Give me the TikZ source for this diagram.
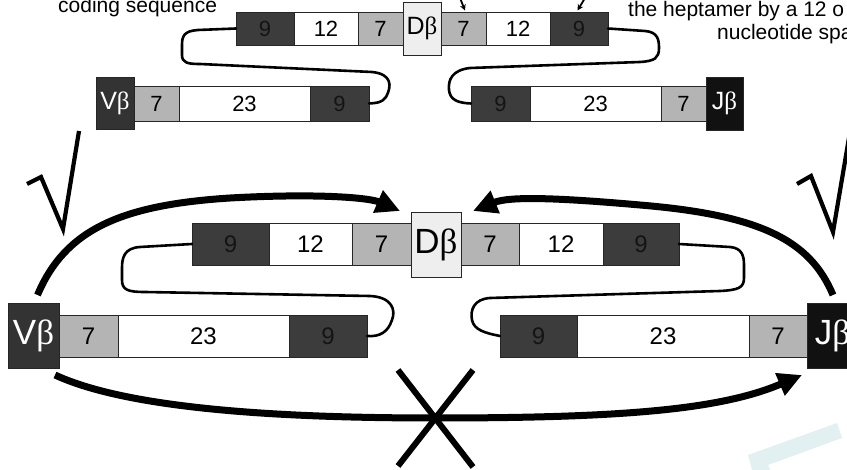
\documentclass[tikz,border=0pt]{standalone}
\usepackage{fontspec}
\setmainfont{Liberation Sans}
\newfontfamily\grk{Liberation Serif}
\usetikzlibrary{arrows.meta}

\definecolor{ninecol}{HTML}{3C3C3C}
\definecolor{sevencol}{HTML}{B4B4B4}
\definecolor{dcol}{HTML}{EEEEEE}
\definecolor{vcol}{HTML}{333333}
\definecolor{jcol}{HTML}{111111}
\definecolor{bandcol}{HTML}{E2F0F1}

\begin{document}
\begin{tikzpicture}[x=1pt,y=-1pt,
  seg/.style 2 args={rectangle, draw=black!85, line width=0.8pt, inner sep=0pt,
    outer sep=0pt, minimum width=#1pt, minimum height=#2pt},
  nine/.style={fill=ninecol, text=black!92},
  seven/.style={fill=sevencol, text=black},
  spacer/.style={fill=white, text=black},
  vgene/.style={fill=vcol, text=white},
  dgene/.style={fill=dcol, text=black},
  jgene/.style={fill=jcol, text=white},
  smallnum/.style={font=\fontsize{22}{22}\selectfont},
  bignum/.style={font=\fontsize{24}{24}\selectfont},
  smallgene/.style={font=\fontsize{25}{25}\selectfont},
  biggene/.style={font=\fontsize{35}{35}\selectfont},
  note/.style={font=\fontsize{21}{21}\selectfont, inner sep=0pt, anchor=base west},
  loopline/.style={line width=2.6pt, line join=round, line cap=round},
  joinarrow/.style={line width=7pt, -{Triangle[length=24pt,width=23pt]}},
  pointer/.style={line width=1.8pt, -{Stealth[length=6pt,width=6pt]}},
  tick/.style={line width=4.2pt, line join=miter},
  cross/.style={line width=6pt}
]
\useasboundingbox (0,0) rectangle (847,470);
\begin{scope}
\clip (0,0) rectangle (847,470);

% faint band in the lower right corner
\fill[bandcol] (748,455) -- (837,423) -- (842,438) -- (768,465) -- (770,470)
  -- (752,470) -- cycle;

% ---------- small diagram: D-beta strand ----------
\node[seg={58}{33}, nine, smallnum]   (t9a)  at (265,28.5)   {9};
\node[seg={64}{33}, spacer, smallnum] (t12a) at (326,28.5)   {12};
\node[seg={45}{33}, seven, smallnum]  (t7a)  at (380.5,28.5) {7};
\node[seg={38}{53}, dgene, smallgene] (sD)   at (422,28.5)   {D{\grk β}};
\node[seg={45}{33}, seven, smallnum]  (t7b)  at (463.5,28.5) {7};
\node[seg={64}{33}, spacer, smallnum] (t12b) at (518,28.5)   {12};
\node[seg={58}{33}, nine, smallnum]   (t9b)  at (579,28.5)   {9};

% ---------- small diagram: V-beta and J-beta strands ----------
\node[seg={38}{52}, vgene, smallgene] (sV)   at (115,103)    {V{\grk β}};
\node[seg={45}{35}, seven, smallnum]  (b7a)  at (156.5,103.5){7};
\node[seg={131}{35}, spacer, smallnum](b23a) at (244.5,103.5){23};
\node[seg={59}{35}, nine, smallnum]   (b9a)  at (339.5,103.5){9};
\node[seg={59}{35}, nine, smallnum]   (b9b)  at (500.5,103.5){9};
\node[seg={131}{35}, spacer, smallnum](b23b) at (595.5,103.5){23};
\node[seg={45}{35}, seven, smallnum]  (b7b)  at (683.5,103.5){7};
\node[seg={37}{53}, jgene, smallgene] (sJ)   at (724.5,103.5){J{\grk β}};

% small loops
\draw[loopline] (t9a.west) -- (198,30) .. controls (184,31) and (182,36) .. (182,45)
  -- (182,55) .. controls (182,63) and (188,64) .. (200,64) -- (372,72)
  .. controls (392,74) and (392,86) .. (386,97) .. controls (382,103) and (376,103) .. (b9a.east);
\draw[loopline] (t9b.east) -- (645,31) .. controls (658,32) and (659,40) .. (659,48)
  .. controls (659,58) and (655,61) .. (640,62) -- (470,68)
  .. controls (452,70) and (448,80) .. (449,90) .. controls (450,100) and (458,103) .. (b9b.west);

% pointers coming from above
\coordinate (p1) at (460,-2);
\coordinate (p2) at (585,-2);
\draw[pointer] (p1) -- ([shift={(1.5,-1.5)}]t7b.north);
\draw[pointer] (p2) -- ([shift={(-1.5,-1.5)}]t9b.north);

% notes
\node[note] (n1) at (58,12.5) {coding sequence};
\node[note] (n2) at (628,17) {the heptamer by a 12 o};
\node[note] (n3) at (717,40) {nucleotide spa};

% ---------- large diagram: D-beta strand ----------
\node[seg={77}{42}, nine, bignum]   (L9a)  at (230.5,244) {9};
\node[seg={83}{42}, spacer, bignum] (L12a) at (310.5,244) {12};
\node[seg={59}{42}, seven, bignum]  (L7a)  at (381.5,244) {7};
\node[seg={50}{65}, dgene, biggene] (LD)   at (436,244.5) {D{\grk β}};
\node[seg={58}{42}, seven, bignum]  (L7b)  at (490,244)   {7};
\node[seg={84}{42}, spacer, bignum] (L12b) at (561,244)   {12};
\node[seg={76}{42}, nine, bignum]   (L9b)  at (641,244)   {9};

% ---------- large diagram: V-beta and J-beta strands ----------
\node[seg={51}{65}, vgene, biggene] (LV)   at (33.5,335.5){V{\grk β}};
\node[seg={59}{42}, seven, bignum]  (M7a)  at (88.5,336)  {7};
\node[seg={171}{42}, spacer, bignum](M23a) at (203.5,336) {23};
\node[seg={78}{42}, nine, bignum]   (M9a)  at (328,336)   {9};
\node[seg={77}{42}, nine, bignum]   (M9b)  at (538.5,336) {9};
\node[seg={172}{42}, spacer, bignum](M23b) at (663,336)   {23};
\node[seg={58}{42}, seven, bignum]  (M7b)  at (778,336)   {7};
\node[seg={51}{65}, jgene, biggene] (LJ)   at (832.5,335.5){J{\grk β}};

% large loops
\draw[loopline] (L9a.west) -- (140,247) .. controls (124,248) and (122,258) .. (122,268)
  -- (122,280) .. controls (122,290) and (128,292) .. (145,292) -- (370,296)
  .. controls (392,297) and (396,310) .. (392,320) .. controls (388,332) and (380,337) .. (M9a.east);
\draw[loopline] (L9b.east) -- (730,247) .. controls (742,248) and (744,256) .. (744,265)
  -- (744,278) .. controls (744,288) and (738,290) .. (720,291) -- (490,298)
  .. controls (474,299) and (470,310) .. (472,320) .. controls (474,330) and (485,333) .. (M9b.west);

% joining arrows
\draw[joinarrow] ([shift={(4,-8)}]LV.north) .. controls (65,230) and (120,205) .. (230,198)
  .. controls (320,193) and (370,198) .. ([shift={(-11,-1)}]LD.north west);
\draw[joinarrow] ([shift={(0.5,-8)}]LJ.north) .. controls (810,240) and (760,215) .. (640,205)
  .. controls (560,198) and (510,196) .. ([shift={(12,-1)}]LD.north east);
\draw[joinarrow] ([shift={(21.5,7)}]LV.south) .. controls (120,405) and (250,418) .. (435,418)
  .. controls (620,418) and (720,410) .. ([shift={(-5,7)}]LJ.south west);

% cross over the direct V-J join
\draw[cross] (398,370) -- (473,467);
\draw[cross] (473,370) -- (398,466);

% allowed joins
\draw[tick] (27,184) -- (41,177) -- (63,229) -- (79,131);
\draw[tick] (797,184) -- (811,176) -- (833,232) -- (851,126);
\end{scope}
\end{tikzpicture}
\end{document}
